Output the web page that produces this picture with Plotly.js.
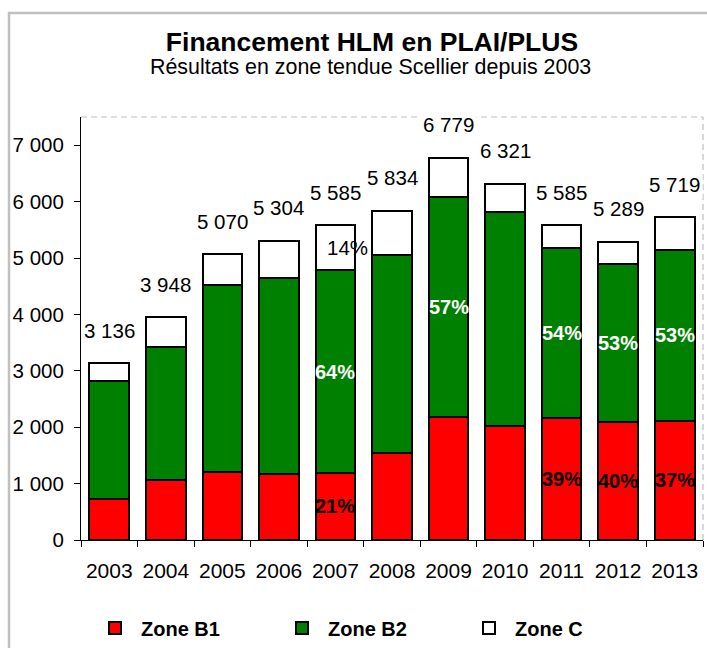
<!DOCTYPE html>
<html>
<head>
<meta charset="utf-8">
<script src="https://cdn.plot.ly/plotly-3.0.1.min.js"></script>
<style>
html,body{margin:0;padding:0;background:#fff;}
#chart{width:707px;height:648px;}
</style>
</head>
<body>
<div id="chart"></div>
<script>
// ---- data ----
const years = ['2003','2004','2005','2006','2007','2008','2009','2010','2011','2012','2013'];
const zoneB1 = [727, 1063, 1200, 1170, 1190, 1536, 2185, 2020, 2160, 2100, 2115];
const zoneB2 = [2096, 2363, 3319, 3478, 3590, 3514, 3899, 3787, 3016, 2800, 3035];
const zoneC  = [313, 522, 551, 656, 805, 784, 695, 514, 409, 389, 569];
const totals = [3136, 3948, 5070, 5304, 5585, 5834, 6779, 6321, 5585, 5289, 5719];
const pctB1 = [null, null, null, null, '21%', null, null, null, '39%', '40%', '37%'];
const pctB2 = [null, null, null, null, '64%', null, '57%', null, '54%', '53%', '53%'];
const pctC  = [null, null, null, null, '14%', null, null, null, null, null, null];
const yTickVals = [0, 1000, 2000, 3000, 4000, 5000, 6000, 7000];
const seriesNames = ['Zone B1', 'Zone B2', 'Zone C'];
const titleText = 'Financement HLM en PLAI/PLUS';
const subtitleText = 'Résultats en zone tendue Scellier depuis 2003';

// ---- styling ----
const FONT = 'Liberation Sans, Arial, Helvetica, sans-serif';
const W = 707, H = 648;
const M = {l: 81, r: 4, t: 117, b: 108};
const plotH = H - M.t - M.b, plotW = W - M.l - M.r;
const fmt = n => String(n).replace(/\B(?=(\d{3})+(?!\d))/g, ' ');

const barLine = {color: '#000000', width: 2};
const traces = [
  {type: 'bar', name: seriesNames[0], x: years, y: zoneB1,
   marker: {color: '#FF0000', line: barLine}, hoverinfo: 'skip'},
  {type: 'bar', name: seriesNames[1], x: years, y: zoneB2,
   marker: {color: '#008000', line: barLine}, hoverinfo: 'skip'},
  {type: 'bar', name: seriesNames[2], x: years, y: zoneC,
   marker: {color: '#FFFFFF', line: barLine}, hoverinfo: 'skip'}
];

const annotations = [];
years.forEach((yr, i) => {
  annotations.push({
    x: i, y: totals[i], xref: 'x', yref: 'y', text: fmt(totals[i]),
    showarrow: false, xanchor: 'center', yanchor: 'middle', yshift: 33,
    bgcolor: '#FFFFFF', borderpad: 2,
    font: {family: FONT, size: 20.5, color: '#000'}
  });
  if (pctB1[i]) annotations.push({
    x: i, y: zoneB1[i] / 2, xref: 'x', yref: 'y', text: pctB1[i], showarrow: false,
    xanchor: 'center', yanchor: 'middle',
    font: {family: FONT, size: 20, color: '#000', weight: 'bold'}
  });
  if (pctB2[i]) annotations.push({
    x: i, y: zoneB1[i] + zoneB2[i] / 2, xref: 'x', yref: 'y', text: pctB2[i], showarrow: false,
    xanchor: 'center', yanchor: 'middle',
    font: {family: FONT, size: 20, color: '#FFFFFF', weight: 'bold'}
  });
  if (pctC[i]) annotations.push({
    x: i, y: zoneB1[i] + zoneB2[i] + zoneC[i] / 2, xref: 'x', yref: 'y', text: pctC[i], showarrow: false,
    xanchor: 'center', yanchor: 'middle', xshift: 12,
    font: {family: FONT, size: 20.5, color: '#000'}
  });
});
annotations.push({
  xref: 'paper', yref: 'paper', x: (370 - M.l) / plotW, y: (H - M.b - 67) / plotH,
  xanchor: 'center', yanchor: 'middle', showarrow: false, text: subtitleText,
  font: {family: FONT, size: 21.4, color: '#000'}
});

const px2x = p => (p - M.l) / plotW;
const px2y = p => (H - M.b - p) / plotH;
const shapes = [
  // outer chart frame
  {type: 'rect', xref: 'paper', yref: 'paper', x0: px2x(9), x1: px2x(720), y0: px2y(660), y1: px2y(13),
   line: {color: '#C0C0C0', width: 2.5}, fillcolor: 'rgba(0,0,0,0)', layer: 'below'},
  // dashed plot-area border top and right
  {type: 'line', xref: 'paper', yref: 'paper', x0: 0, x1: 1, y0: 1, y1: 1,
   line: {color: '#BFBFBF', width: 1.2, dash: '6px,4px'}, layer: 'below'},
  {type: 'line', xref: 'paper', yref: 'paper', x0: 1, x1: 1, y0: 0, y1: 1,
   line: {color: '#BFBFBF', width: 1.2, dash: '6px,4px'}, layer: 'below'}
];

const layout = {
  width: W, height: H,
  margin: M,
  paper_bgcolor: '#FFFFFF', plot_bgcolor: 'rgba(0,0,0,0)',
  separators: ', ',
  barmode: 'stack', bargap: 0.3,
  font: {family: FONT, size: 20.5, color: '#000'},
  title: {
    text: titleText, xref: 'container', yref: 'container',
    x: 372 / W, xanchor: 'center', y: 1 - 42 / H, yanchor: 'middle',
    font: {family: FONT, size: 26.5, color: '#000', weight: 'bold'}
  },
  xaxis: {
    type: 'category', range: [-0.5, 10.5], fixedrange: true,
    showline: true, linecolor: '#000', linewidth: 1,
    ticks: 'outside', tickson: 'boundaries', ticklen: 6, tickcolor: '#000', tickwidth: 1,
    showgrid: false, zeroline: false,
    ticklabelstandoff: 12,
    tickfont: {family: FONT, size: 21, color: '#000'}
  },
  yaxis: {
    range: [0, 7500], fixedrange: true,
    tickvals: yTickVals, tickformat: ',d',
    showline: true, linecolor: '#000', linewidth: 1,
    ticks: 'outside', ticklen: 6, tickcolor: '#000', tickwidth: 1,
    showgrid: false, zeroline: false,
    ticklabelstandoff: 6,
    tickfont: {family: FONT, size: 20.5, color: '#000'}
  },
  showlegend: true,
  legend: {
    orientation: 'h', xref: 'container', yref: 'container',
    x: 89 / W, xanchor: 'left', y: 1 - 628 / H, yanchor: 'middle',
    itemwidth: 42,
    entrywidth: 130, entrywidthmode: 'pixels', traceorder: 'normal',
    font: {family: FONT, size: 20, color: '#000', weight: 'bold'},
    bgcolor: 'rgba(0,0,0,0)'
  },
  annotations: annotations,
  shapes: shapes
};

Plotly.newPlot('chart', traces, layout, {displayModeBar: false, staticPlot: true});
</script>
</body>
</html>
